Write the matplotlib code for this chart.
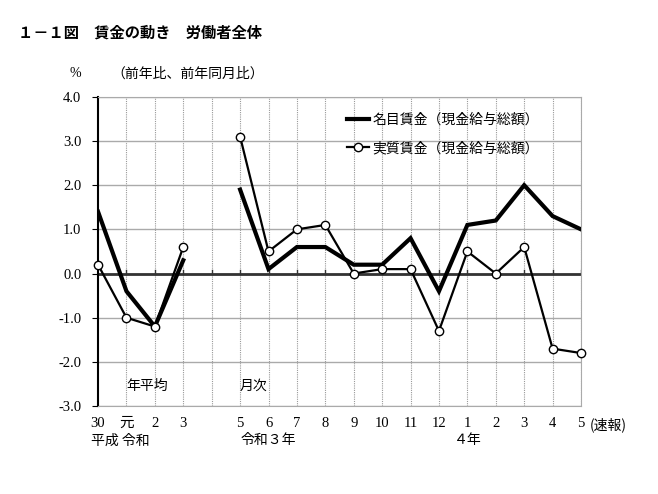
import numpy as np
import matplotlib
matplotlib.use("Agg")
import matplotlib.pyplot as plt

plt.rcParams['font.family'] = ['Noto Sans CJK JP', 'DejaVu Sans']

# data
tick_labels = ["30", "元", "2", "3", "", "5", "6", "7", "8", "9", "10", "11", "12",
               "1", "2", "3", "4", "5"]
nominal_annual = [1.4, -0.4, -1.2, 0.3]
nominal_monthly = [1.9, 0.1, 0.6, 0.6, 0.2, 0.2, 0.8, -0.4, 1.1, 1.2, 2.0, 1.3, 1.0]
real_annual = [0.2, -1.0, -1.2, 0.6]
real_monthly = [3.1, 0.5, 1.0, 1.1, 0.0, 0.1, 0.1, -1.3, 0.5, 0.0, 0.6, -1.7, -1.8]

nominal = nominal_annual + [np.nan] + nominal_monthly
real = real_annual + [np.nan] + real_monthly
x = np.arange(len(tick_labels))

fig = plt.figure(figsize=(6.58, 4.94), dpi=100)
ax = fig.add_axes([0.149, 0.178, 0.734, 0.626])
ax.set_axisbelow(True)

num_font = dict(family=['Liberation Serif', 'Noto Sans CJK JP'])

ax.set_xlim(0, len(x) - 1)
ax.set_ylim(-3, 4)
ax.set_yticks(np.arange(-3, 5, 1))
ax.set_yticklabels([f"{v:.1f}" for v in np.arange(-3, 5, 1)], fontsize=10.5, **num_font)
ax.set_xticks(x)
ax.set_xticklabels([])
ax.tick_params(axis='x', length=0)
ax.tick_params(axis='y', length=4, direction='out', pad=8)

ax.grid(axis='y', color='#aaaaaa', lw=1, zorder=0)
for xi in x[1:]:
    ax.axvline(xi, color='#999999', lw=0.8, ls=(0, (1, 1)), zorder=0)
ax.axhline(0, color='#333333', lw=2, zorder=2)
for xi in x[1:]:
    ax.plot([xi, xi], [0, 0.07], color='#333333', lw=1, zorder=2)

for side in ['top', 'right', 'bottom']:
    ax.spines[side].set_color('#aaaaaa')
ax.spines['left'].set_color('black')
ax.spines['left'].set_linewidth(1.5)

ax.plot(x, nominal, color='black', lw=3, label='名目賃金（現金給与総額）',
        solid_joinstyle='miter', zorder=3)
ax.plot(x, real, color='black', lw=1.6, marker='o', ms=6, mfc='white', mec='black',
        mew=1, label='実質賃金（現金給与総額）', zorder=4, clip_on=False)

ax.legend(loc='upper left', bbox_to_anchor=(0.49, 0.99), frameon=False, fontsize=10,
          handlelength=1.6, handletextpad=0.2, labelspacing=1.05)

# axis labels
for xi, lab in zip(x, tick_labels):
    if lab:
        ax.text(xi, -3.25, lab, ha='center', va='top', fontsize=10.5,
                family=['Liberation Serif', 'Noto Sans CJK JP'], clip_on=False)
ax.text(x[-1] + 0.3, -3.25, "(速報)", ha='left', va='top', fontsize=10, clip_on=False)
ax.text(0.8, -3.62, "平成 令和", ha='center', va='top', fontsize=10, clip_on=False)
ax.text(6.0, -3.62, "令和３年", ha='center', va='top', fontsize=10, clip_on=False)
ax.text(13.0, -3.62, "４年", ha='center', va='top', fontsize=10, clip_on=False)

ax.text(1.0, -2.55, "年平均", ha='left', va='center', fontsize=10)
ax.text(5.0, -2.55, "月次", ha='left', va='center', fontsize=10)

fig.text(0.105, 0.851, "%", ha='left', va='center', fontsize=10, **num_font)
fig.text(0.17, 0.851, "（前年比、前年同月比）", ha='left', va='center', fontsize=10)
fig.text(0.028, 0.935, "１－１図　賃金の動き　労働者全体", ha='left', va='center',
         fontsize=11, fontweight='bold')

fig.savefig("out.png", dpi=100)
